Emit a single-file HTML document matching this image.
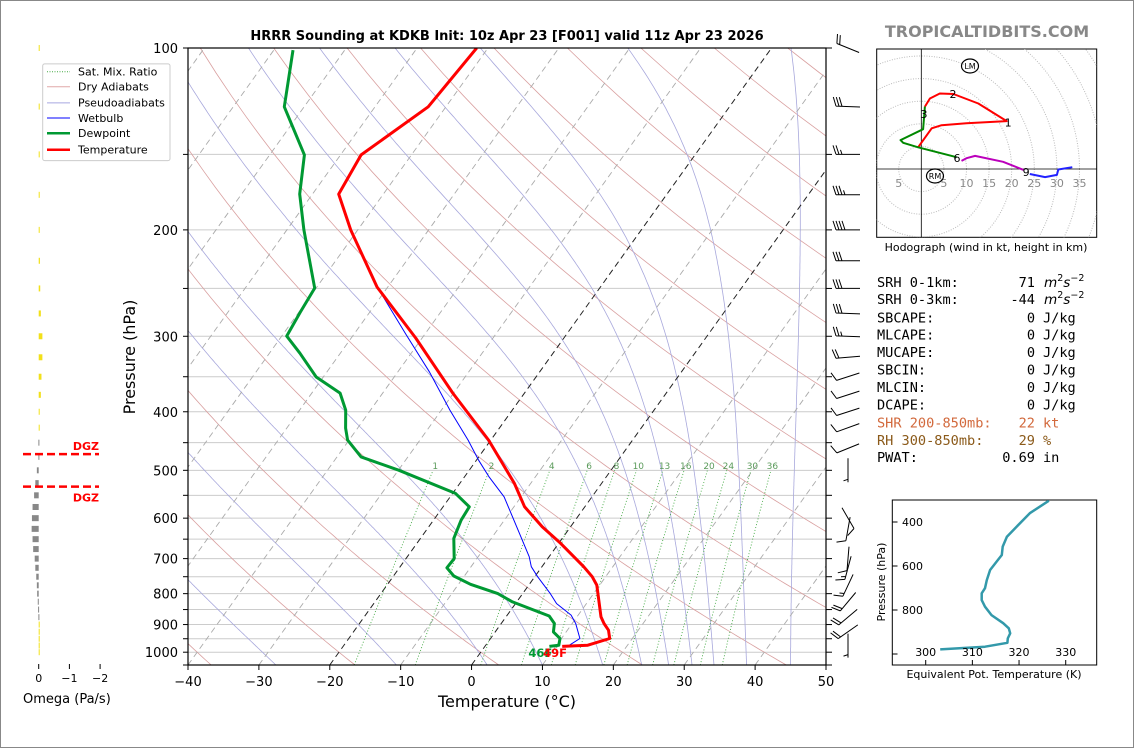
<!DOCTYPE html>
<html><head><meta charset="utf-8"><style>
html,body{margin:0;padding:0;background:#fff;}
svg{display:block;font-family:"DejaVu Sans","Liberation Sans",sans-serif;}
</style></head><body>
<svg id="fig" width="1134" height="748" viewBox="0 0 1134 748" xmlns="http://www.w3.org/2000/svg">
<rect x="0.5" y="0.5" width="1133" height="747" fill="#fff" stroke="#888" stroke-width="1"/>
<defs>
<clipPath id="mainClip"><rect x="188" y="48" width="638" height="617"/></clipPath>
<clipPath id="hodoClip"><rect x="876.7" y="49" width="220" height="188.3"/></clipPath>
<clipPath id="thetaClip"><rect x="892.3" y="500" width="204.4" height="165"/></clipPath>
</defs>
<text x="507" y="40" text-anchor="middle" font-size="13" font-weight="bold">HRRR Sounding at KDKB Init: 10z Apr 23 [F001] valid 11z Apr 23 2026</text>
<text x="987" y="37" text-anchor="middle" font-size="16" font-weight="bold" fill="#888">TROPICALTIDBITS.COM</text>
<g id="bg" clip-path="url(#mainClip)"></g>
<g id="series" clip-path="url(#mainClip)"></g>
<g id="axes"></g>
<g id="barbs"></g>
<g id="omega"></g>
<g id="legend">
<rect x="42.7" y="63.9" width="127.3" height="96.7" fill="#fff" stroke="#ccc" rx="2"/>
<line x1="47" y1="71.7" x2="70" y2="71.7" stroke="#4a4" stroke-dasharray="1,1.5"/>
<text x="78" y="75.5" font-size="11">Sat. Mix. Ratio</text>
<line x1="47" y1="86.8" x2="70" y2="86.8" stroke="#e0a8a8"/>
<text x="78" y="90.6" font-size="11">Dry Adiabats</text>
<line x1="47" y1="102.9" x2="70" y2="102.9" stroke="#a8a8e0"/>
<text x="78" y="106.7" font-size="11">Pseudoadiabats</text>
<line x1="47" y1="118" x2="70" y2="118" stroke="#00f"/>
<text x="78" y="121.8" font-size="11">Wetbulb</text>
<line x1="47" y1="133.2" x2="70" y2="133.2" stroke="#093" stroke-width="2.5"/>
<text x="78" y="137" font-size="11">Dewpoint</text>
<line x1="47" y1="149.7" x2="70" y2="149.7" stroke="#f00" stroke-width="2.5"/>
<text x="78" y="153.5" font-size="11">Temperature</text>
</g>
<g id="hodo"></g>
<g id="params" font-family="'DejaVu Sans Mono','Liberation Mono',monospace" font-size="13.6">
<text x="877" y="287">SRH 0-1km:</text><text x="1035" y="287" text-anchor="end">71</text><text x="1044" y="287" font-family="'DejaVu Sans',sans-serif"><tspan font-style="italic">m</tspan><tspan dy="-6" font-size="9.5">2</tspan><tspan dy="6" font-style="italic">s</tspan><tspan dy="-6" font-size="9.5">−2</tspan></text>
<text x="877" y="304">SRH 0-3km:</text><text x="1035" y="304" text-anchor="end">-44</text><text x="1044" y="304" font-family="'DejaVu Sans',sans-serif"><tspan font-style="italic">m</tspan><tspan dy="-6" font-size="9.5">2</tspan><tspan dy="6" font-style="italic">s</tspan><tspan dy="-6" font-size="9.5">−2</tspan></text>
<text x="877" y="322.5">SBCAPE:</text><text x="1035" y="322.5" text-anchor="end">0</text><text x="1043" y="322.5">J/kg</text>
<text x="877" y="339.5">MLCAPE:</text><text x="1035" y="339.5" text-anchor="end">0</text><text x="1043" y="339.5">J/kg</text>
<text x="877" y="357">MUCAPE:</text><text x="1035" y="357" text-anchor="end">0</text><text x="1043" y="357">J/kg</text>
<text x="877" y="374.5">SBCIN:</text><text x="1035" y="374.5" text-anchor="end">0</text><text x="1043" y="374.5">J/kg</text>
<text x="877" y="392">MLCIN:</text><text x="1035" y="392" text-anchor="end">0</text><text x="1043" y="392">J/kg</text>
<text x="877" y="409.5">DCAPE:</text><text x="1035" y="409.5" text-anchor="end">0</text><text x="1043" y="409.5">J/kg</text>
<text x="877" y="427.5" fill="#d2693c">SHR 200-850mb:</text><text x="1035" y="427.5" text-anchor="end" fill="#d2693c">22</text><text x="1043" y="427.5" fill="#d2693c">kt</text>
<text x="877" y="445" fill="#8b5a1a">RH 300-850mb:</text><text x="1035" y="445" text-anchor="end" fill="#8b5a1a">29</text><text x="1043" y="445" fill="#8b5a1a">%</text>
<text x="877" y="462">PWAT:</text><text x="1035" y="462" text-anchor="end">0.69</text><text x="1043" y="462">in</text>
</g>
<g id="theta"></g>
</svg>
<script>
// ---------- data ----------
const tempP = [100,125.1,150.3,174.5,200,248.7,302,372.6,445.7,525.6,574.5,620,660.7,722,750,774.5,874,896.5,919.7,949,973.6,978];
const tempC = [-61.6,-62.5,-67.1,-66.3,-61.0,-51.5,-40.9,-30.1,-20.3,-12.3,-8.5,-4.0,0.3,5.9,8.1,9.6,13.4,14.5,15.8,16.8,14.4,10.9];
const dewP = [100.8,125.1,150.3,174.5,200,249.7,273.6,299.8,320,350.4,372.6,397.5,425.7,445.7,475,500,546,574.5,604.6,648,700,725,748,772,800,825.5,871,896.5,925.6,949,973.6,978];
const dewC = [-87.3,-82.8,-75.1,-71.8,-67.6,-60.2,-59.8,-59.3,-55.7,-51.0,-46.0,-43.5,-41.7,-40.2,-36.6,-29.9,-19.6,-16.3,-16.1,-15.3,-13.2,-13.3,-11.5,-8.3,-3.5,-0.6,6.0,7.5,8.2,9.8,10.3,9.1];
const wbP = [100,125.1,150.3,174.5,200,245,297.5,344,397.5,445.7,481,513,553,574.5,620,695,722,750,800,831,868,896.5,949,973.6];
const wbC = [-61.7,-62.6,-67.2,-66.4,-61.1,-52.2,-42.7,-35.5,-28.8,-23.2,-19.7,-16.5,-12.4,-10.8,-7.6,-2.8,-1.5,0.4,3.9,5.8,9.0,10.5,12.6,11.8];
const sfcTempLabel = "49F";
const sfcDewLabel = "46F";
const omegaP = [100,125,150,175,200,225,250,275,300,325,350,375,400,425,450,475,500,525,550,575,600,625,650,675,700,725,750,775,800,825,850,875,900,925,950,975,1000];
const omegaVal = [-0.01,0,-0.03,-0.03,-0.03,-0.04,-0.05,-0.07,-0.12,-0.12,-0.09,-0.07,-0.02,0,0.01,0.01,0.06,0.11,0.15,0.2,0.22,0.23,0.2,0.18,0.13,0.11,0.08,0.06,0.05,0.03,0.02,0.01,-0.01,-0.01,-0.01,-0.01,-0.01];
const dgzP = [470, 532];
const barbP = [100,125,150,175,200,225,250,275,300,325,350,375,400,425,460,500,600,625,700,725,775,825,875,925,975];
const barbDir = [292,272,270,270,270,270,270,272,272,265,252,252,252,250,248,180,150,190,185,195,205,220,230,235,180];
const barbSpd = [20,30,25,35,40,30,30,30,25,20,10,10,10,10,10,5,10,10,10,15,15,20,20,20,5];
const hodoRedU = [-0.7,2.3,4.5,10.0,18.9,12.6,7.1,4.1,1.9,0.8];
const hodoRedV = [4.8,9.0,9.7,10.1,10.6,14.5,16.6,16.7,15.6,13.8];
const hodoGreenU = [0.8,0.4,-4.6,-4.0,-0.7,7.8];
const hodoGreenV = [13.8,8.8,6.4,5.8,4.8,2.6];
const hodoMagU = [8.9,10.0,11.9,18.1,22.6];
const hodoMagV = [1.8,2.4,2.9,1.6,-0.2];
const hodoBlueU = [24.0,27.4,30.0,30.3,33.4];
const hodoBlueV = [-1.1,-1.8,-1.3,-0.1,0.4];
const hodoLabels = ["1","2","3","6","9"];
const hodoLabU = [19.2,7.0,0.6,7.9,23.2];
const hodoLabV = [10.3,16.6,12.2,2.4,-0.7];
const thetaK = [326.4,322.3,319.5,317.4,316.5,316.3,315.2,313.8,313.1,312.7,312.0,312.0,312.7,314.1,316.6,317.8,318.1,317.6,317.5,312.7,303.1];
const thetaP = [303,360,421,467,512,550,580,618,664,701,724,755,785,823,860,883,906,929,949,967,979];
const tempTicks = [-40,-30,-20,-10,0,10,20,30,40,50];
const presTicks = [100,200,300,400,500,600,700,800,900,1000];
const mixRatios = [1,2,4,6,8,10,13,16,20,24,30,36];

// ---------- helpers ----------
const NS = "http://www.w3.org/2000/svg";
function mk(tag, parent){ const e=document.createElementNS(NS,tag); parent.appendChild(e); return e; }
const L1050 = Math.log10(1050), L100 = 2;
function yOf(p){ return 665 - 617*(L1050-Math.log10(p))/(L1050-L100); }
function xOf(t,p){ return 188 + (t+40)*638/90 + 0.716*(665-yOf(p)); }
function ptsStr(arr){ return arr.map(a=>a[0].toFixed(1)+","+a[1].toFixed(1)).join(" "); }
function esat(tc){ return 6.112*Math.exp(17.67*tc/(tc+243.5)); }

const bg=document.getElementById('bg');
for(let p=100;p<=1050;p+=50){
  const l=mk('line',bg);
  
  
  l.setAttribute('x1',188);l.setAttribute('x2',826);l.setAttribute('y1',yOf(p));l.setAttribute('y2',yOf(p));
  l.setAttribute('stroke','#ccc');l.setAttribute('stroke-width','1');
}
for(let th=-40;th<=320;th+=20){
  const pts=[];
  for(let p=1050;p>=100;p-=10){ const tk=(th+273.15)*Math.pow(p/1000,0.2857); pts.push([xOf(tk-273.15,p),yOf(p)]); }
  const pl=mk('polyline',bg);
  
  
  pl.setAttribute('points',ptsStr(pts));pl.setAttribute('fill','none');pl.setAttribute('stroke','#d9a0a0');pl.setAttribute('stroke-width','0.8');
}
[-27.6,-10.6,2.2,10,18.5,24,27.8,31.1,34.2,38.8,45].forEach(t0=>{
  let T=t0+273.15; const pts=[];
  for(let p=1050;p>=100;p-=2){
    pts.push([xOf(T-273.15,p),yOf(p)]);
    const tc=T-273.15, es=esat(tc), rs=0.622*es/Math.max(p-es,1);
    const num=287.04*T+2.501e6*rs, den=1005.7+(2.501e6*2.501e6*rs*0.622)/(287.04*T*T);
    T += (num/den/p)*(-2);
  }
  const pl=mk('polyline',bg);
  
  
  pl.setAttribute('points',ptsStr(pts));pl.setAttribute('fill','none');pl.setAttribute('stroke','#a8a8dc');pl.setAttribute('stroke-width','0.8');
});
for(let t=-120;t<=50;t+=10){
  const l=mk('line',bg);
  
  
  l.setAttribute('x1',xOf(t,1050));l.setAttribute('y1',665);l.setAttribute('x2',xOf(t,100));l.setAttribute('y2',48);
  const dark=(t===0||t===-20);
  l.setAttribute('stroke',dark?'#222':'#aaa');l.setAttribute('stroke-width',dark?'1':'0.9');l.setAttribute('stroke-dasharray','6,4');
}
mixRatios.forEach(w=>{
  const pts=[];
  for(let p=1050;p>=500;p-=10){ const e=w*p/(622+w); const ln=Math.log(e/6.112); const td=243.5*ln/(17.67-ln); pts.push([xOf(td,p),yOf(p)]); }
  const pl=mk('polyline',bg);
  
  
  pl.setAttribute('points',ptsStr(pts));pl.setAttribute('fill','none');pl.setAttribute('stroke','#4a4');pl.setAttribute('stroke-width','0.9');pl.setAttribute('stroke-dasharray','1,2');
  const e=w*490/(622+w), ln=Math.log(e/6.112), td=243.5*ln/(17.67-ln);
  const tx=mk('text',bg);
  
  
  tx.setAttribute('x',xOf(td,490));tx.setAttribute('y',469);tx.setAttribute('font-size','9');tx.setAttribute('fill','#5a9a5a');tx.setAttribute('text-anchor','middle');
  tx.textContent=String(w);
});

const ser=document.getElementById('series');
function drawSeries(P,T,color,width,name){
  const pl=mk('polyline',ser);
  
  
  pl.setAttribute('points',ptsStr(P.map((p,i)=>[xOf(T[i],p),yOf(p)])));
  pl.setAttribute('fill','none');pl.setAttribute('stroke',color);pl.setAttribute('stroke-width',width);pl.setAttribute('stroke-linejoin','round');
}
drawSeries(wbP,wbC,'#00f','1','wetbulb-line');
drawSeries(dewP,dewC,'#093','3','dewpoint-line');
drawSeries(tempP,tempC,'#f00','3','temperature-line');
const dl=mk('text',ser);


dl.setAttribute('x',xOf(dewC[dewC.length-1],dewP[dewP.length-1])-21);dl.setAttribute('y',657);dl.setAttribute('font-size','11.5');dl.setAttribute('font-weight','bold');dl.setAttribute('fill','#093');dl.textContent=sfcDewLabel;
const tl=mk('text',ser);


tl.setAttribute('x',xOf(tempC[tempC.length-1],tempP[tempP.length-1])-19);tl.setAttribute('y',657);tl.setAttribute('font-size','11.5');tl.setAttribute('font-weight','bold');tl.setAttribute('fill','#f00');tl.textContent=sfcTempLabel;

const ax=document.getElementById('axes');
const fr=mk('rect',ax);


fr.setAttribute('x',188);fr.setAttribute('y',48);fr.setAttribute('width',638);fr.setAttribute('height',617);fr.setAttribute('fill','none');fr.setAttribute('stroke','#000');fr.setAttribute('stroke-width','1.2');
for(let p=100;p<=1050;p+=50){
  const y=yOf(p);
  const a=mk('line',ax);
  
  
  a.setAttribute('x1',183);a.setAttribute('x2',188);a.setAttribute('y1',y);a.setAttribute('y2',y);a.setAttribute('stroke','#000');
  const b=mk('line',ax);
  
  
  b.setAttribute('x1',826);b.setAttribute('x2',832);b.setAttribute('y1',y);b.setAttribute('y2',y);b.setAttribute('stroke','#000');
}
presTicks.forEach(p=>{
  const t=mk('text',ax);
  
  
  t.setAttribute('x',178);t.setAttribute('y',yOf(p)+5);t.setAttribute('text-anchor','end');t.setAttribute('font-size','13');t.textContent=String(p);
});
tempTicks.forEach(tc=>{
  const x=188+(tc+40)*638/90;
  const a=mk('line',ax);
  
  
  a.setAttribute('x1',x);a.setAttribute('x2',x);a.setAttribute('y1',665);a.setAttribute('y2',670);a.setAttribute('stroke','#000');
  const t=mk('text',ax);
  
  
  t.setAttribute('x',x);t.setAttribute('y',686);t.setAttribute('text-anchor','middle');t.setAttribute('font-size','13');t.textContent=(tc<0?'−':'')+Math.abs(tc);
});
const xt=mk('text',ax);


xt.setAttribute('x',507);xt.setAttribute('y',707);xt.setAttribute('text-anchor','middle');xt.setAttribute('font-size','16');xt.textContent='Temperature (°C)';
const yt=mk('text',ax);


yt.setAttribute('transform','translate(135,357) rotate(-90)');yt.setAttribute('text-anchor','middle');yt.setAttribute('font-size','16');yt.textContent='Pressure (hPa)';

const bb=document.getElementById('barbs');
barbP.forEach((p,i)=>{
  const d=barbDir[i]*Math.PI/180, L=24, cx=848, cy=yOf(p);
  const ux=Math.sin(d), uy=-Math.cos(d);
  const x0=cx-ux*L/2, y0=cy-uy*L/2, x1=cx+ux*L/2, y1=cy+uy*L/2;
  const g=mk('g',bb);
  
  
  let dstr=`M${x0.toFixed(1)},${y0.toFixed(1)}L${x1.toFixed(1)},${y1.toFixed(1)}`;
  const px=-uy, py=ux;
  let s=barbSpd[i], pos=0;
  const full=Math.floor(s/10); s-=full*10; const half=s>=5;
  for(let k=0;k<full;k++){
    const bx=x1-ux*pos, by=y1-uy*pos;
    dstr+=`M${bx.toFixed(1)},${by.toFixed(1)}l${(px*9+ux*3).toFixed(1)},${(py*9+uy*3).toFixed(1)}`;
    pos+=3;
  }
  if(half){
    if(full===0) pos=3;
    const bx=x1-ux*pos, by=y1-uy*pos;
    dstr+=`M${bx.toFixed(1)},${by.toFixed(1)}l${(px*4.5+ux*1.5).toFixed(1)},${(py*4.5+uy*1.5).toFixed(1)}`;
  }
  const path=mk('path',g);
  
  
  path.setAttribute('d',dstr);path.setAttribute('fill','none');path.setAttribute('stroke','#000');path.setAttribute('stroke-width','1');
});

const om=document.getElementById('omega');
function ox(w){ return 38.7 - w*30.7; }
omegaP.forEach((p,i)=>{
  const w=omegaVal[i]; const y=yOf(p);
  const r=mk('rect',om);
  
  
  const xa=Math.min(ox(0),ox(w)), wd=Math.max(Math.abs(ox(w)-ox(0)),1);
  r.setAttribute('x',xa);r.setAttribute('y',y-3);r.setAttribute('width',wd);r.setAttribute('height',6);
  r.setAttribute('fill',w>0?'#888':'#f2e01a');
});
dgzP.forEach((p,i)=>{
  const y=yOf(p);
  const l=mk('line',om);
  
  
  l.setAttribute('x1',23);l.setAttribute('x2',99);l.setAttribute('y1',y);l.setAttribute('y2',y);l.setAttribute('stroke','#f00');l.setAttribute('stroke-width','2.5');l.setAttribute('stroke-dasharray','8,4');
  const t=mk('text',om);
  
  
  t.setAttribute('x',99);t.setAttribute('y',i===0?y-4:y+15);t.setAttribute('text-anchor','end');t.setAttribute('font-size','11');t.setAttribute('font-weight','bold');t.setAttribute('fill','#f00');t.textContent='DGZ';
});
[0,-1,-2].forEach(w=>{
  const a=mk('line',om);
  
  
  a.setAttribute('x1',ox(w));a.setAttribute('x2',ox(w));a.setAttribute('y1',664);a.setAttribute('y2',669);a.setAttribute('stroke','#000');
  const t=mk('text',om);
  
  
  t.setAttribute('x',ox(w));t.setAttribute('y',682);t.setAttribute('text-anchor','middle');t.setAttribute('font-size','11');t.textContent=(w<0?'−':'')+Math.abs(w);
});
const ot=mk('text',om);


ot.setAttribute('x',23);ot.setAttribute('y',703);ot.setAttribute('font-size','13');ot.textContent='Omega (Pa/s)';

const hd=document.getElementById('hodo');
const H0x=921.3,H0y=169,HS=4.52;
function hx(u){return H0x+u*HS;} function hy(v){return H0y-v*HS;}
const hf=mk('rect',hd);


hf.setAttribute('x',876.7);hf.setAttribute('y',49);hf.setAttribute('width',220);hf.setAttribute('height',188.3);hf.setAttribute('fill','#fff');hf.setAttribute('stroke','#000');
const hc=mk('g',hd);
hc.setAttribute('clip-path','url(#hodoClip)');


for(let r=5;r<=60;r+=5){
  const c=mk('circle',hc);
  
  
  c.setAttribute('cx',H0x);c.setAttribute('cy',H0y);c.setAttribute('r',r*HS);c.setAttribute('fill','none');c.setAttribute('stroke','#bbb');c.setAttribute('stroke-dasharray','1,1.5');
}
[[876.7,H0y,1096.7,H0y],[H0x,49,H0x,237.3]].forEach(a=>{
  const l=mk('line',hc);
  
  
  l.setAttribute('x1',a[0]);l.setAttribute('y1',a[1]);l.setAttribute('x2',a[2]);l.setAttribute('y2',a[3]);l.setAttribute('stroke','#000');l.setAttribute('stroke-width','0.8');
});
[-5,5,10,15,20,25,30,35].forEach(r=>{
  const t=mk('text',hc);
  
  
  t.setAttribute('x',hx(r));t.setAttribute('y',187);t.setAttribute('text-anchor','middle');t.setAttribute('font-size','11');t.setAttribute('fill','#888');t.textContent=String(Math.abs(r));
});
function hodoLine(U,V,col,name){
  const pl=mk('polyline',hc);
  
  
  pl.setAttribute('points',ptsStr(U.map((u,i)=>[hx(u),hy(V[i])])));pl.setAttribute('fill','none');pl.setAttribute('stroke',col);pl.setAttribute('stroke-width','2');pl.setAttribute('stroke-linejoin','round');
}
hodoLine(hodoRedU,hodoRedV,'#f00','hodograph-0-3km');
hodoLine(hodoGreenU,hodoGreenV,'#080','hodograph-3-6km');
hodoLine(hodoMagU,hodoMagV,'#b0b','hodograph-6-9km');
hodoLine(hodoBlueU,hodoBlueV,'#22f','hodograph-9-12km');
hodoLabels.forEach((s,i)=>{
  const t=mk('text',hc);
  
  
  t.setAttribute('x',hx(hodoLabU[i]));t.setAttribute('y',hy(hodoLabV[i])+4);t.setAttribute('text-anchor','middle');t.setAttribute('font-size','11');t.textContent=s;
});
[['LM',970,66],['RM',935,176]].forEach(m=>{
  const e=mk('ellipse',hc);
  
  
  e.setAttribute('cx',m[1]);e.setAttribute('cy',m[2]);e.setAttribute('rx',8.5);e.setAttribute('ry',7);e.setAttribute('fill','none');e.setAttribute('stroke','#000');e.setAttribute('stroke-width','1.2');
  const t=mk('text',hc);
  
  
  t.setAttribute('x',m[1]);t.setAttribute('y',m[2]+3);t.setAttribute('text-anchor','middle');t.setAttribute('font-size','8');t.textContent=m[0];
});
const hcap=mk('text',hd);


hcap.setAttribute('x',986);hcap.setAttribute('y',251);hcap.setAttribute('text-anchor','middle');hcap.setAttribute('font-size','11');hcap.textContent='Hodograph (wind in kt, height in km)';

const th=document.getElementById('theta');
function tx(k){return 925.7+(k-300)*4.667;} function ty(p){return 522+(p-400)*0.22;}
const tf=mk('rect',th);


tf.setAttribute('x',892.3);tf.setAttribute('y',500);tf.setAttribute('width',204.4);tf.setAttribute('height',165);tf.setAttribute('fill','#fff');tf.setAttribute('stroke','#000');
const tcg=mk('g',th);
tcg.setAttribute('clip-path','url(#thetaClip)');


const tpl=mk('polyline',tcg);


tpl.setAttribute('points',ptsStr(thetaK.map((k,i)=>[tx(k),ty(thetaP[i])])));tpl.setAttribute('fill','none');tpl.setAttribute('stroke','#3399aa');tpl.setAttribute('stroke-width','2.5');tpl.setAttribute('stroke-linejoin','round');
[300,310,320,330].forEach(k=>{
  const a=mk('line',th);
  
  
  a.setAttribute('x1',tx(k));a.setAttribute('x2',tx(k));a.setAttribute('y1',665);a.setAttribute('y2',660);a.setAttribute('stroke','#000');
  const t=mk('text',th);
  
  
  t.setAttribute('x',tx(k));t.setAttribute('y',656);t.setAttribute('text-anchor','middle');t.setAttribute('font-size','11');t.textContent=String(k);
});
[400,600,800,1000].forEach(p=>{
  const a=mk('line',th);
  
  
  a.setAttribute('x1',892.3);a.setAttribute('x2',897.5);a.setAttribute('y1',ty(p));a.setAttribute('y2',ty(p));a.setAttribute('stroke','#000');
  if(p<1000){
    const t=mk('text',th);
    
    
    t.setAttribute('x',902);t.setAttribute('y',ty(p)+4);t.setAttribute('font-size','11');t.textContent=String(p);
  }
});
const txl=mk('text',th);


txl.setAttribute('x',994);txl.setAttribute('y',678);txl.setAttribute('text-anchor','middle');txl.setAttribute('font-size','11');txl.textContent='Equivalent Pot. Temperature (K)';
const tyl=mk('text',th);


tyl.setAttribute('transform','translate(885,582) rotate(-90)');tyl.setAttribute('text-anchor','middle');tyl.setAttribute('font-size','11');tyl.textContent='Pressure (hPa)';
</script>
</body></html>
